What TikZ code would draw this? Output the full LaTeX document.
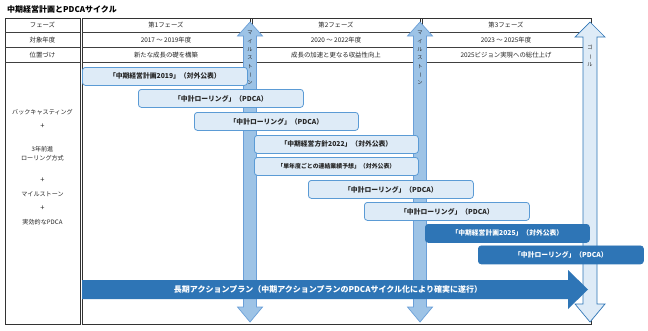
\documentclass[tikz,border=0pt]{standalone}
\usepackage{fontspec}
\usepackage{graphicx}
\setmainfont{Noto Sans CJK JP}
\definecolor{blight}{HTML}{DEEBF7}
\definecolor{bbord}{HTML}{5B9BD5}
\definecolor{bdark}{HTML}{2E75B6}
\definecolor{bmid}{HTML}{9DC3E6}
\definecolor{bmidline}{HTML}{6A9FD8}
\definecolor{txt}{HTML}{262626}
\newcommand{\vbar}{\rotatebox[origin=c]{-90}{ー}}
\begin{document}
\begin{tikzpicture}[x=1pt,y=-1pt,
  tline/.style={draw=black!80, line width=0.7pt},
  sepline/.style={draw=black!75, line width=1.7pt},
  cell/.style={font=\fontsize{6.4}{7}\selectfont, text=txt, inner sep=0pt, anchor=center},
  lefttxt/.style={font=\fontsize{6.1}{7}\selectfont, text=txt, inner sep=0pt, anchor=center},
  lbox/.style={draw=bbord, fill=blight, line width=0.8pt, rounded corners=3pt, anchor=north west,
    minimum height=18pt, inner sep=0pt, text=txt, font=\bfseries\fontsize{6.8}{8}\selectfont},
  dbox/.style={draw=bdark, fill=bdark, line width=0.8pt, rounded corners=3pt, anchor=north west,
    minimum height=18pt, inner sep=0pt, text=white, font=\bfseries\fontsize{6.8}{8}\selectfont},
  msarrow/.style={draw=bmidline, fill=bmid, line width=0.7pt, line join=miter},
  goalarrow/.style={draw=bdark, fill=blight, line width=0.7pt, line join=miter},
  vtxt/.style={align=center, inner sep=0pt, text=txt, font=\fontsize{5.2}{8.3}\selectfont},
]
\useasboundingbox (0,0) rectangle (648,330);
\fill[white] (0,0) rectangle (648,330);

% title
\node[anchor=west, inner sep=0pt, font=\bfseries\fontsize{8}{9}\selectfont, text=black] (title) at (7,9) {中期経営計画とPDCAサイクル};

% table frames
\draw[tline] (5,18) rectangle (80,324);
\draw[tline] (82,18) -- (591,18) -- (591,324) -- (82,324) -- cycle;
\foreach \yy in {32.5,47.5,62.5} {
  \draw[sepline] (5,\yy) -- (80,\yy);
  \draw[sepline] (82,\yy) -- (591,\yy);
}
\foreach \xx in {250,252,420,422} {
  \draw[tline] (\xx,18) -- (\xx,62);
}

% header texts
\node[cell] (h0) at (42.5,25.3) {フェーズ};
\node[cell] (h1) at (166,25.3) {第1フェーズ};
\node[cell] (h2) at (336,25.3) {第2フェーズ};
\node[cell] (h3) at (506,25.3) {第3フェーズ};
\node[cell] (y0) at (42.5,40) {対象年度};
\node[cell] (y1) at (166,40) {2017 ～ 2019年度};
\node[cell] (y2) at (336,40) {2020 ～ 2022年度};
\node[cell] (y3) at (506,40) {2023 ～ 2025年度};
\node[cell] (p0) at (42.5,55) {位置づけ};
\node[cell] (p1) at (166,55) {新たな成長の礎を構築};
\node[cell] (p2) at (336,55) {成長の加速と更なる収益性向上};
\node[cell] (p3) at (506,55) {2025ビジョン実現への総仕上げ};

% left column
\node[lefttxt] (l1) at (42.5,112) {バックキャスティング};
\node[lefttxt, font=\fontsize{7.5}{8}\selectfont] (l2) at (42.5,126) {+};
\node[lefttxt] (l3) at (42.5,149) {3年前進};
\node[lefttxt] (l4) at (42.5,158) {ローリング方式};
\node[lefttxt, font=\fontsize{7.5}{8}\selectfont] (l5) at (42.5,180) {+};
\node[lefttxt] (l6) at (42.5,194) {マイルストーン};
\node[lefttxt, font=\fontsize{7.5}{8}\selectfont] (l7) at (42.5,208) {+};
\node[lefttxt] (l8) at (42.5,222) {実効的なPDCA};

% milestone arrows
\foreach \c in {250,420} {
  \draw[msarrow] (\c,22) -- ({\c+12.5},36) -- ({\c+6.5},36) -- ({\c+6.5},307) -- ({\c+12.5},307)
    -- (\c,322) -- ({\c-12.5},307) -- ({\c-6.5},307) -- ({\c-6.5},36) -- ({\c-12.5},36) -- cycle;
}
\node[vtxt] (ms1) at (250,58) {マ\\イ\\ル\\ス\\ト\\\vbar\\ン};
\node[vtxt] (ms2) at (420,58) {マ\\イ\\ル\\ス\\ト\\\vbar\\ン};

% goal arrow
\draw[goalarrow] (590,22) -- (605,37) -- (597,37) -- (597,304) -- (605,304)
  -- (590,322) -- (575,304) -- (583,304) -- (583,37) -- (575,37) -- cycle;
\node[vtxt] (goal) at (590,56) {ゴ\\\vbar\\ル};

% plan boxes
\node[lbox, minimum width=165pt] (b1) at (82,67) {「中期経営計画2019」（対外公表）};
\node[lbox, minimum width=165pt] (b2) at (138,89) {「中計ローリング」（PDCA）};
\node[lbox, minimum width=164pt] (b3) at (194,112) {「中計ローリング」（PDCA）};
\node[lbox, minimum width=164pt] (b4) at (254,135) {「中期経営方針2022」（対外公表）};
\node[lbox, minimum width=164pt, font=\bfseries\fontsize{5.9}{7}\selectfont] (b5) at (254,157) {「単年度ごとの連結業績予想」（対外公表）};
\node[lbox, minimum width=165pt] (b6) at (308,180) {「中計ローリング」（PDCA）};
\node[lbox, minimum width=165pt] (b7) at (364,202) {「中計ローリング」（PDCA）};
\node[dbox, minimum width=164pt] (b8) at (425,224) {「中期経営計画2025」（対外公表）};
\node[dbox, minimum width=165pt] (b9) at (478,245.5) {「中計ローリング」（PDCA）};

% long action plan arrow
\fill[bdark] (82,280) -- (568,280) -- (568,270) -- (588,289.5) -- (568,309) -- (568,299) -- (82,299) -- cycle;
\node[inner sep=0pt, text=white, font=\bfseries\fontsize{8}{9}\selectfont] (plan) at (328,289.5)
  {長期アクションプラン（中期アクションプランのPDCAサイクル化により確実に遂行）};
\end{tikzpicture}
\end{document}
